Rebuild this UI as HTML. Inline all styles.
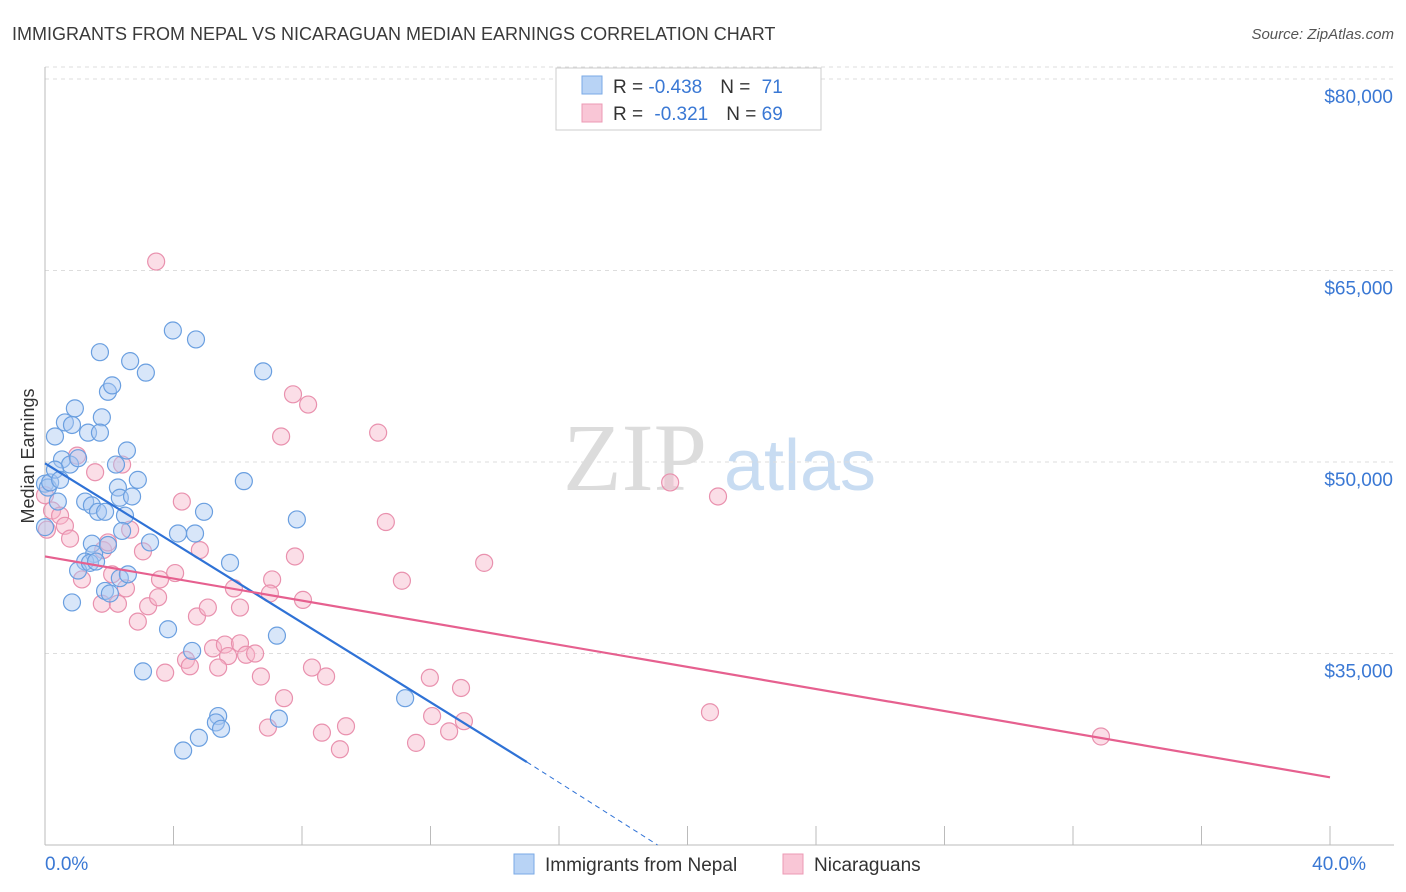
<!DOCTYPE html>
<html><head><meta charset="utf-8">
<style>
body{margin:0;background:#fff;font-family:"Liberation Sans",sans-serif;}
svg{display:block}
</style></head>
<body>
<svg id="chart" width="1406" height="892">
<text x="12" y="40" font-size="18" fill="#3a3a3a">IMMIGRANTS FROM NEPAL VS NICARAGUAN MEDIAN EARNINGS CORRELATION CHART</text>
<text x="1394" y="39" font-size="15" fill="#555" font-style="italic" text-anchor="end">Source: ZipAtlas.com</text>
<text transform="translate(34,456) rotate(-90)" font-size="18" fill="#333" text-anchor="middle">Median Earnings</text>
<g>
<text x="635" y="490" font-size="96" fill="#dcdcdc" font-family="Liberation Serif" text-anchor="middle">ZIP</text>
<text x="800" y="490" font-size="72" fill="#c8dcf2" text-anchor="middle">atlas</text>
</g>
<g id="grid"></g><g id="axes"></g><g id="pinkpts"></g><g id="bluepts"></g><g id="lines"></g>
<g>
<rect x="556" y="68" width="265" height="62" fill="#fff" stroke="#ccc"/>
<rect x="582" y="76" width="20" height="18" fill="#b8d3f5" stroke="#7aaae6"/>
<rect x="582" y="104" width="20" height="18" fill="#f9c6d6" stroke="#ec9ab4"/>
<text x="613" y="93" font-size="19" fill="#333">R = <tspan fill="#3a78d4">-0.438</tspan><tspan dx="18">N = </tspan><tspan fill="#3a78d4" dx="6">71</tspan></text>
<text x="613" y="120" font-size="19" fill="#333">R = <tspan fill="#3a78d4" dx="6">-0.321</tspan><tspan dx="18">N = </tspan><tspan fill="#3a78d4">69</tspan></text>
</g>
<g>
<rect x="514" y="854" width="20" height="20" fill="#b8d3f5" stroke="#7aaae6"/>
<text x="545" y="871" font-size="19" fill="#333">Immigrants from Nepal</text>
<rect x="783" y="854" width="20" height="20" fill="#f9c6d6" stroke="#ec9ab4"/>
<text x="814" y="871" font-size="19" fill="#333">Nicaraguans</text>
</g>
</svg>
<script>
const yTicks=[35000,50000,65000,80000];
const yTickLabels=["$35,000","$50,000","$65,000","$80,000"];
const xTickCount=[0,4,8,12,16,20,24,28,32,36,40];
const xLabels=["0.0%","40.0%"];
const blueX=[0,0.31,0,0.53,0.78,0.62,0.93,0.40,1.03,0.84,1.34,1.25,1.46,1.77,1.71,1.96,2.09,2.65,3.14,3.98,4.70,1.71,2.21,2.27,2.55,2.89,2.33,2.71,1.65,1.87,2.49,1.46,1.53,1.96,2.40,3.27,4.14,4.67,4.95,6.19,6.79,7.84,5.76,1.25,1.03,1.40,1.59,2.33,2.58,1.87,2.02,0.84,3.83,3.05,4.58,7.22,5.39,5.32,5.48,7.28,4.30,4.79,11.21,0.09,0.16,0.31,0.47];
const blueY=[48.3,52.0,44.9,50.2,49.8,53.1,54.2,46.9,50.3,52.9,52.3,46.9,46.6,53.5,58.6,55.5,56.0,57.9,57.0,60.3,59.6,52.3,49.8,48.0,50.9,48.6,47.2,47.3,46.1,46.1,45.8,43.6,42.8,43.5,44.6,43.7,44.4,44.4,46.1,48.5,57.1,45.5,42.1,42.2,41.5,42.1,42.2,40.9,41.2,39.9,39.7,39.0,36.9,33.6,35.2,36.4,30.1,29.6,29.1,29.9,27.4,28.4,31.5,48.0,48.4,49.4,48.6];
const pinkX=[3.46,7.72,8.19,7.35,10.37,10.61,19.46,20.95,13.67,11.11,20.70,32.87,0,0.22,0.47,0.62,0.78,0.06,1.0,1.56,2.40,1.81,1.96,2.65,3.05,4.26,4.82,4.05,3.58,1.15,2.09,2.52,1.77,2.27,3.21,3.52,2.89,4.73,5.07,6.07,5.88,7.07,7.00,7.78,8.03,5.23,5.60,6.07,5.70,6.26,6.54,4.39,4.51,5.39,3.74,6.72,7.44,8.31,8.75,6.94,8.62,9.37,9.18,11.98,12.95,12.05,12.58,13.04,11.55];
const pinkY=[65.7,55.3,54.5,52.0,52.3,45.3,48.4,47.3,42.1,40.7,30.4,28.5,47.4,46.2,45.8,45.0,44.0,44.7,50.5,49.2,49.8,43.1,43.7,44.7,43.0,46.9,43.1,41.3,40.8,40.8,41.2,40.1,38.9,38.9,38.7,39.4,37.5,37.9,38.6,38.6,40.1,40.8,39.7,42.6,39.2,35.4,35.7,35.8,34.8,34.9,35.0,34.5,34.0,33.9,33.5,33.2,31.5,33.9,33.2,29.2,28.8,29.3,27.5,33.1,32.3,30.1,28.9,29.7,28.0];
const blueTrend=[[0,49.9],[15,26.5],[19.07,20.0]];
const pinkTrend=[[0,42.6],[40,25.3]];
const NS="http://www.w3.org/2000/svg";
const X=p=>45+p*32.125;
const Y=v=>462-(v-50000)*0.012767;
function mk(tag,attrs,parent){const e=document.createElementNS(NS,tag);for(const k in attrs)e.setAttribute(k,attrs[k]);parent.appendChild(e);return e;}
const grid=document.getElementById('grid'),axes=document.getElementById('axes');
yTicks.forEach((t,i)=>{
 const l=mk('line',{x1:45,x2:1394,y1:Y(t),y2:Y(t),stroke:'#ddd','stroke-dasharray':'4,4'},grid);
 
 
 const tx=mk('text',{x:1393,y:Y(t)+24,'font-size':19,fill:'#3a78d4','text-anchor':'end'},axes);
 tx.textContent=yTickLabels[i];
 
 
});
mk('line',{x1:45,x2:1394,y1:Y(80000)-12,y2:Y(80000)-12,stroke:'#ddd','stroke-dasharray':'4,4'},grid);
const ya=mk('line',{x1:45,x2:45,y1:67,y2:845,stroke:'#bbb'},axes);


const xa=mk('line',{x1:45,x2:1394,y1:845,y2:845,stroke:'#bbb'},axes);


xTickCount.forEach(p=>{const t=mk('line',{x1:X(p),x2:X(p),y1:826,y2:845,stroke:'#bbb'},axes);
 
 });
[[0,'start'],[40,'end']].forEach((d,i)=>{const t=mk('text',{x:X(d[0])+(i?36:0),y:870,'font-size':19,fill:'#3a78d4','text-anchor':d[1]},axes);t.textContent=xLabels[i];
 
 });
function pts(xs,ys,g,fill,stroke,name){xs.forEach((x,i)=>{const c=mk('circle',{cx:X(x),cy:Y(ys[i]*1000),r:8.5,fill:fill,'fill-opacity':0.45,stroke:stroke,'stroke-width':1.2},g);
 
 });}
pts(pinkX,pinkY,document.getElementById('pinkpts'),'#f7b6ca','#e991ae','nicaraguan-point');
pts(blueX,blueY,document.getElementById('bluepts'),'#a8c8f2','#6a9fe0','nepal-point');
const lg=document.getElementById('lines');
const b1=mk('line',{x1:X(blueTrend[0][0]),y1:Y(blueTrend[0][1]*1000),x2:X(blueTrend[1][0]),y2:Y(blueTrend[1][1]*1000),stroke:'#2f72d6','stroke-width':2.2},lg);


const b2=mk('line',{x1:X(blueTrend[1][0]),y1:Y(blueTrend[1][1]*1000),x2:X(blueTrend[2][0]),y2:Y(blueTrend[2][1]*1000),stroke:'#2f72d6','stroke-width':1,'stroke-dasharray':'5,4'},lg);


const p1=mk('line',{x1:X(pinkTrend[0][0]),y1:Y(pinkTrend[0][1]*1000),x2:X(pinkTrend[1][0]),y2:Y(pinkTrend[1][1]*1000),stroke:'#e6608f','stroke-width':2.2},lg);


</script>
</body></html>
